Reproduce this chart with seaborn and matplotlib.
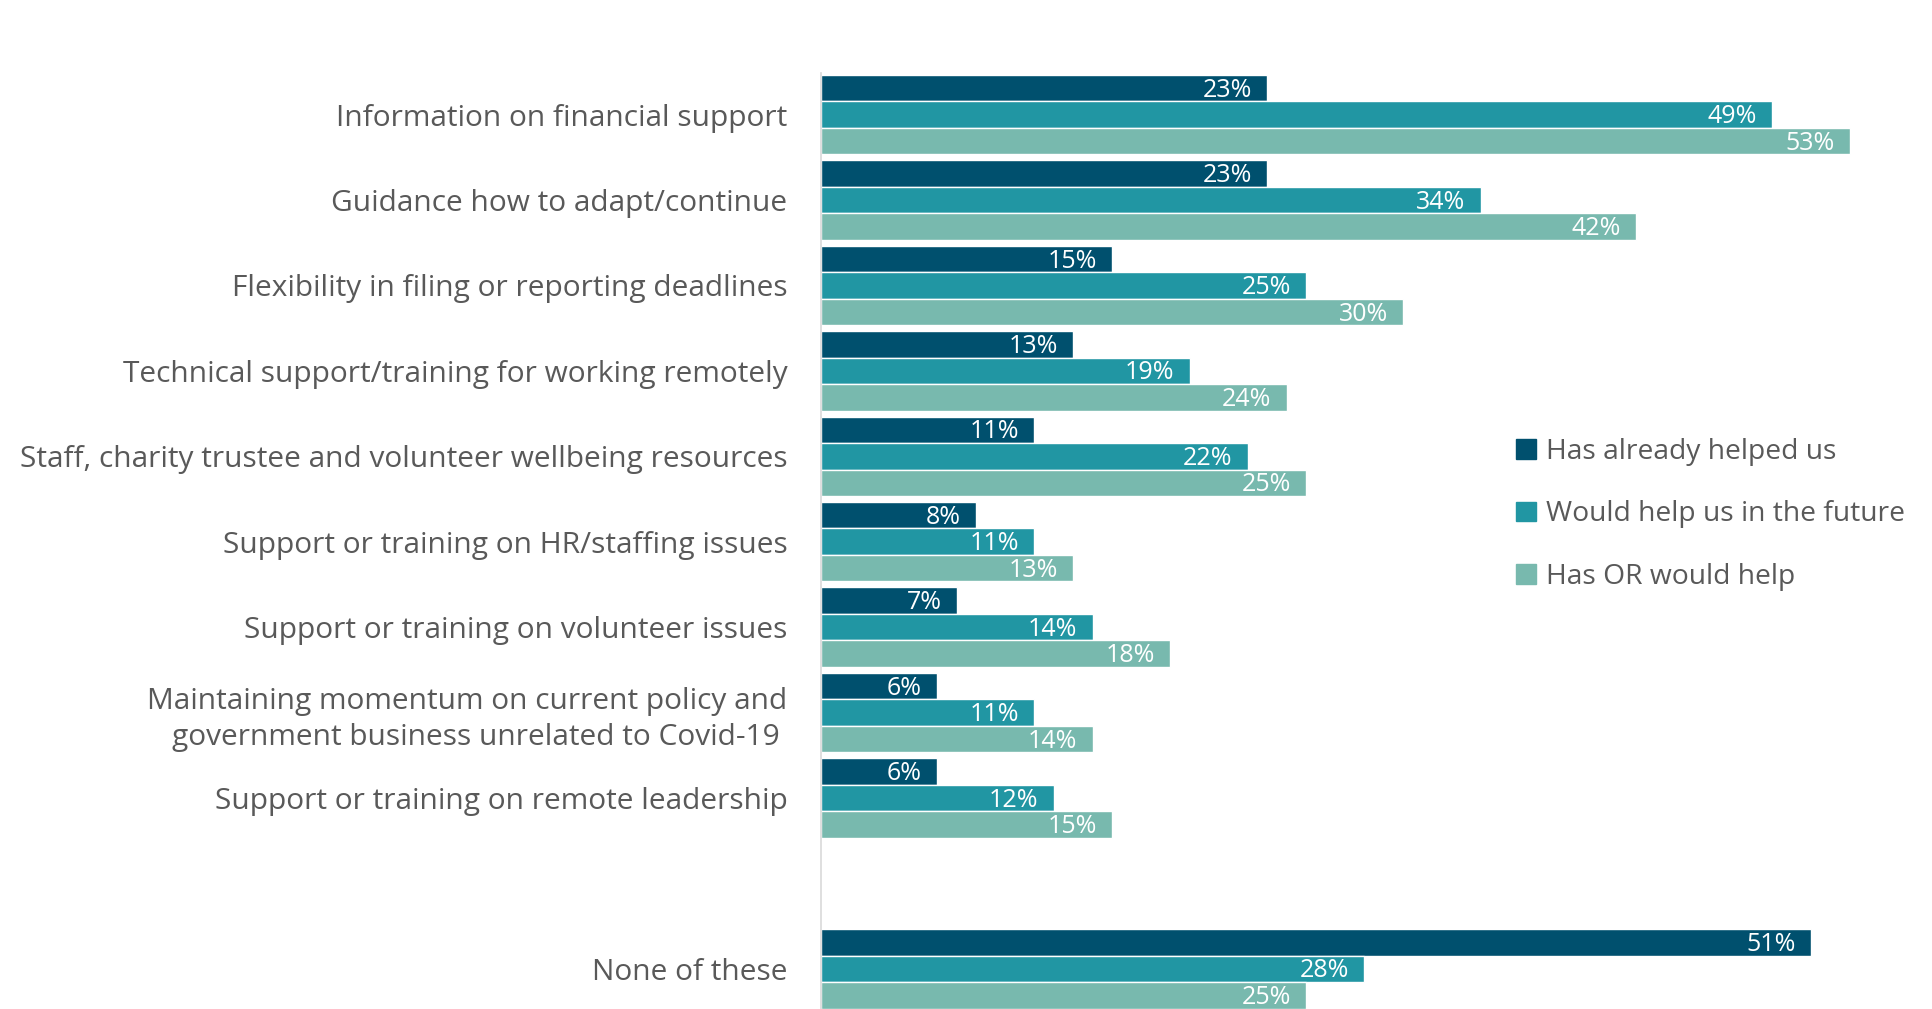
# -------------------------------------------------------
# IMPORT REQUIRED LIBRARIES
# -------------------------------------------------------
import pandas as pd
import matplotlib.pyplot as plt
import seaborn as sns

# -------------------------------------------------------
# CHART DATA
# -------------------------------------------------------
categories = [
    "Information on financial support",
    "Guidance how to adapt/continue",
    "Flexibility in filing or reporting deadlines",
    "Technical support/training for working remotely",
    "Staff, charity trustee and volunteer wellbeing resources",
    "Support or training on HR/staffing issues",
    "Support or training on volunteer issues",
    "Maintaining momentum on current policy and\ngovernment business unrelated to Covid-19 ",
    "Support or training on remote leadership",
    "None of these",
]
series = ["Has already helped us", "Would help us in the future", "Has OR would help"]
already_helped = [23, 23, 15, 13, 11, 8, 7, 6, 6, 51]
would_help = [49, 34, 25, 19, 22, 11, 14, 11, 12, 28]
has_or_would = [53, 42, 30, 24, 25, 13, 18, 14, 15, 25]

colors = ["#00506E", "#2196A3", "#78B9AE"]

# long-form table for seaborn
rows = []
for name, vals in zip(series, [already_helped, would_help, has_or_would]):
    for cat, v in zip(categories, vals):
        rows.append({"category": cat, "series": name, "value": v})
df = pd.DataFrame(rows)

# blank slot before "None of these"
order = categories[:-1] + [" "] + categories[-1:]

# -------------------------------------------------------
# PLOT
# -------------------------------------------------------
sns.set_style("white")
plt.rcParams["font.family"] = ["Open Sans", "DejaVu Sans"]

fig = plt.figure(figsize=(19.33, 10.09), dpi=100)
ax = fig.add_axes([0.4247, 0.0, 0.5753, 1 - 73 / 1009])

sns.barplot(data=df, y="category", x="value", hue="series", order=order,
            hue_order=series, palette=colors, orient="h", width=0.93,
            errorbar=None, saturation=1, ax=ax, legend=False)

for cont in ax.containers:
    texts = ax.bar_label(cont, labels=[f"{v:.0f}%" for v in cont.datavalues],
                         padding=-11, color="white", fontsize=18)
    for t in texts:
        t.set_ha("right")
        t.xyann = (t.xyann[0], -1.5)

ax.set_xlim(0, 57.3)
ax.set_ylim(10.47, -0.487)
ax.set_xlabel("")
ax.set_ylabel("")
ax.set_xticks([])
ax.tick_params(axis="y", length=0, pad=24, labelsize=21.5, labelcolor="#595959")
for lbl in ax.get_yticklabels():
    lbl.set_linespacing(1.3)

for side in ["top", "right", "bottom"]:
    ax.spines[side].set_visible(False)
ax.spines["left"].set_color("#D9D9D9")
ax.spines["left"].set_linewidth(1.2)

# legend
handles = [plt.Rectangle((0, 0), 1, 1, color=c) for c in colors]
fig.legend(handles, series, loc="upper left", bbox_to_anchor=(1516 / 1933, 1 - 438 / 1009),
           frameon=False, fontsize=20.3, labelcolor="#595959", handlelength=0.7,
           handleheight=0.7, handletextpad=0.35, labelspacing=1.22,
           borderpad=0, borderaxespad=0)

fig.savefig("out.png", dpi=100)
